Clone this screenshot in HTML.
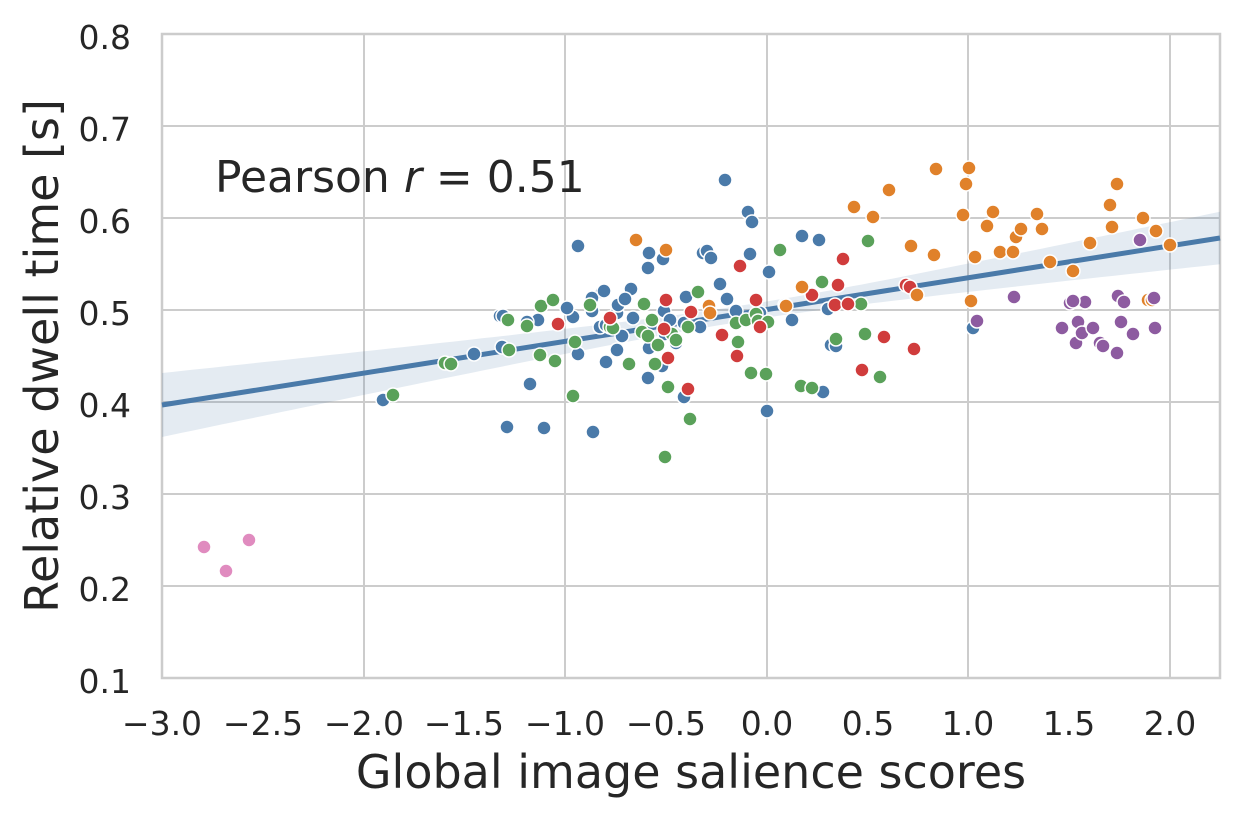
<!DOCTYPE html>
<html><head><meta charset="utf-8"><style>
html,body{margin:0;padding:0;background:#fff;}
svg{display:block;font-family:"DejaVu Sans","Liberation Sans",sans-serif;}
</style></head><body>
<svg id="s" width="1247" height="817" viewBox="0 0 1247 817" xmlns="http://www.w3.org/2000/svg">
<rect width="1247" height="817" fill="#fff"/>
<g stroke="#cccccc" stroke-width="2">
<line x1="162" y1="34" x2="162" y2="678"/><line x1="364" y1="34" x2="364" y2="678"/><line x1="565" y1="34" x2="565" y2="678"/><line x1="767" y1="34" x2="767" y2="678"/><line x1="968" y1="34" x2="968" y2="678"/><line x1="1170" y1="34" x2="1170" y2="678"/>
<line x1="162" y1="126" x2="1220" y2="126"/><line x1="162" y1="218" x2="1220" y2="218"/><line x1="162" y1="310" x2="1220" y2="310"/><line x1="162" y1="402" x2="1220" y2="402"/><line x1="162" y1="494" x2="1220" y2="494"/><line x1="162" y1="586" x2="1220" y2="586"/>
<rect x="162" y="34" width="1058" height="644" fill="none" stroke-width="2.5"/>
</g>
<polygon id="band" fill="#4a7aa9" fill-opacity="0.15" points=""/>
<line x1="162" y1="405" x2="1220" y2="238" stroke="#4a7aa9" stroke-width="5"/>
<g id="pts" stroke="#fff" stroke-width="1.5"></g>
<g fill="#262626" font-size="33" text-anchor="end">
<text x="131" y="49">0.8</text><text x="131" y="141">0.7</text><text x="131" y="233">0.6</text><text x="131" y="325">0.5</text><text x="131" y="417">0.4</text><text x="131" y="509">0.3</text><text x="131" y="601">0.2</text><text x="131" y="693">0.1</text>
</g>
<g fill="#262626" font-size="33" text-anchor="middle">
<text x="162" y="735">−3.0</text><text x="263" y="735">−2.5</text><text x="364" y="735">−2.0</text><text x="464" y="735">−1.5</text><text x="565" y="735">−1.0</text><text x="666" y="735">−0.5</text><text x="767" y="735">0.0</text><text x="868" y="735">0.5</text><text x="968" y="735">1.0</text><text x="1069" y="735">1.5</text><text x="1170" y="735">2.0</text>
</g>
<text x="691" y="788" fill="#262626" font-size="46" text-anchor="middle">Global image salience scores</text>
<text transform="translate(58,356) rotate(-90)" fill="#262626" font-size="46" text-anchor="middle">Relative dwell time [s]</text>
<text x="215" y="192" fill="#262626" font-size="44">Pearson <tspan font-style="italic">r</tspan> = 0.51</text>
</svg>
<script>
var up=[],lo=[];
for(var x=162;x<=1220;x+=10){var xx=Math.min(x,1220);var c=405-(xx-162)*167/1058;var d=xx-747;var w=Math.sqrt(64+0.0028*d*d);up.push(xx+","+(c-w).toFixed(1));lo.unshift(xx+","+(c+w).toFixed(1));}
(function(){var xx=1220,c=238,d=473,w=Math.sqrt(64+0.0028*d*d);up.push(xx+","+(c-w).toFixed(1));lo.unshift(xx+","+(c+w).toFixed(1));})();
document.getElementById("band").setAttribute("points",up.concat(lo).join(" "));
var C={b:"#4a7aa9",g:"#5aa15a",r:"#d03c3c",o:"#e0812a",p:"#8d5ba0",k:"#e08bbf"};
var D={
k:[[204,547],[226,571],[249,540]],
b:[[383,400],[474,354],[502,347],[500,316],[503,316],[530,384],[507,427],[538,320],[527,322],[544,428],[578,246],[573,317],[578,354],[593,432],[600,327],[602,292],[592,298],[604,291],[606,362],[617,350],[606,325],[617,313],[622,336],[618,305],[633,318],[631,289],[625,299],[648,378],[649,348],[649,253],[648,268],[663,259],[664,311],[665,334],[670,320],[662,366],[676,343],[684,397],[686,297],[684,323],[700,327],[703,253],[707,251],[711,258],[725,180],[720,284],[727,299],[736,311],[748,212],[752,222],[750,254],[769,272],[767,411],[760,313],[785,305],[792,320],[802,236],[819,240],[828,309],[831,345],[836,346],[823,392],[973,328],[592,311],[567,308]],
g:[[393,395],[445,363],[451,364],[508,320],[509,350],[527,326],[541,306],[553,300],[540,355],[555,361],[573,396],[575,342],[590,305],[610,327],[613,328],[629,364],[642,332],[644,304],[648,336],[655,364],[652,320],[658,345],[668,387],[665,457],[672,334],[676,340],[690,419],[698,292],[738,342],[736,323],[746,320],[751,373],[756,314],[758,321],[766,374],[768,322],[780,250],[801,386],[812,388],[822,282],[836,339],[865,334],[868,241],[880,377],[861,304],[688,327]],
r:[[558,324],[668,358],[664,329],[688,389],[691,312],[722,335],[737,356],[740,266],[760,327],[812,295],[835,305],[838,285],[843,259],[848,304],[862,370],[884,337],[906,285],[910,287],[914,349],[610,318],[666,300],[756,300]],
o:[[636,240],[666,250],[709,306],[710,313],[786,306],[802,287],[854,207],[889,190],[873,217],[911,246],[917,295],[934,255],[936,169],[963,215],[966,184],[969,168],[971,301],[975,257],[987,226],[993,212],[1000,252],[1016,237],[1021,229],[1013,252],[1037,214],[1042,229],[1050,262],[1073,271],[1090,243],[1110,205],[1112,227],[1117,184],[1143,218],[1148,300],[1152,300],[1156,231],[1170,245]],
p:[[977,321],[1014,297],[1062,328],[1070,303],[1076,343],[1078,322],[1082,333],[1085,302],[1093,328],[1100,343],[1103,346],[1117,353],[1118,296],[1121,322],[1124,302],[1133,334],[1140,240],[1154,298],[1155,328],[1073,301]]};
var g=document.getElementById("pts"),h="";
["b","g","r","o","p","k"].forEach(function(k){D[k].forEach(function(q){h+='<circle cx="'+q[0]+'" cy="'+q[1]+'" r="7" fill="'+C[k]+'"/>';});});
g.innerHTML=h;
</script>
</body></html>
